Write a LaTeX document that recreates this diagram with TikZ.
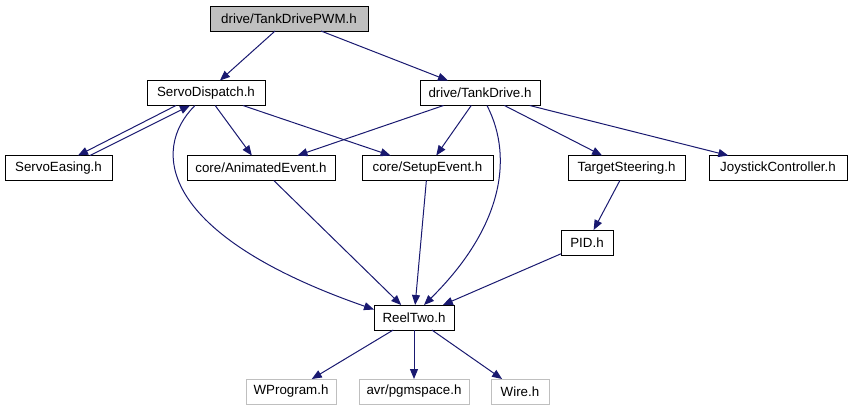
\documentclass[tikz,border=0pt]{standalone}
\usepackage{fontspec}
\setmainfont{Liberation Sans}
\usepackage{xcolor}
\usetikzlibrary{arrows.meta}
\definecolor{edgeblue}{HTML}{191970}
\definecolor{ghost}{HTML}{BFBFBF}

\tikzset{
  hdr/.style={draw=black,line width=0.75pt,minimum height=18.75pt,inner sep=0pt,outer sep=0pt,font=\fontsize{10}{12}\selectfont},
  sys/.style={hdr,draw=ghost},
  edge/.style={draw=edgeblue,line width=0.75pt,-{Triangle[length=7.5pt,width=6pt]},fill=none}
}

\begin{document}
\begin{tikzpicture}[x=0.75pt,y=-0.75pt]
  \useasboundingbox (0,0) rectangle (853,411);
  % top row
  \node[hdr,fill=ghost,minimum width=118.5pt] (pwm) at (289,18.5) {drive/TankDrivePWM.h};
  \node[hdr,minimum width=88.5pt] (sd) at (206,93) {ServoDispatch.h};
  \node[hdr,minimum width=90pt] (td) at (480,93) {drive/TankDrive.h};
  % middle row
  \node[hdr,minimum width=80.25pt] (se) at (58.5,168) {ServoEasing.h};
  \node[hdr,minimum width=111pt] (ae) at (261,168) {core/AnimatedEvent.h};
  \node[hdr,minimum width=98.25pt] (su) at (427.5,168) {core/SetupEvent.h};
  \node[hdr,minimum width=87.75pt] (ts) at (626.5,168) {TargetSteering.h};
  \node[hdr,minimum width=103.5pt] (jc) at (778,168) {JoystickController.h};
  \node[hdr,minimum width=39pt] (pid) at (587,242.5) {PID.h};
  \node[hdr,minimum width=60pt] (rt) at (414,317.5) {ReelTwo.h};
  % system headers
  \node[sys,minimum width=67.5pt] (wp) at (291,391.5) {WProgram.h};
  \node[sys,minimum width=82.5pt] (avr) at (414,391.5) {avr/pgmspace.h};
  \node[sys,minimum width=43.5pt] (wire) at (520,391.5) {Wire.h};

  \foreach \s/\t in {pwm/sd,pwm/td,sd/ae,sd/su,td/ae,td/su,td/ts,td/jc,
                     ae/rt,su/rt,ts/pid,pid/rt,rt/wp,rt/avr,rt/wire}
    \draw[edge] (\s) -- (\t);

  % servo easing cycle
  \draw[edge] ([xshift=-22.5pt]sd.south) -- ([xshift=14.6pt]se.north);
  \draw[edge] ([xshift=23.6pt]se.north) -- ([xshift=-12pt]sd.south);
  % long curves into ReelTwo
  \draw[edge] ([xshift=-8.25pt]sd.south) .. controls (150,150) and (160,235) .. ([yshift=6pt]rt.west);
  \draw[edge] ([xshift=5.25pt]td.south) .. controls (515,160) and (500,230) .. ([xshift=7.5pt]rt.north);
\end{tikzpicture}
\end{document}
